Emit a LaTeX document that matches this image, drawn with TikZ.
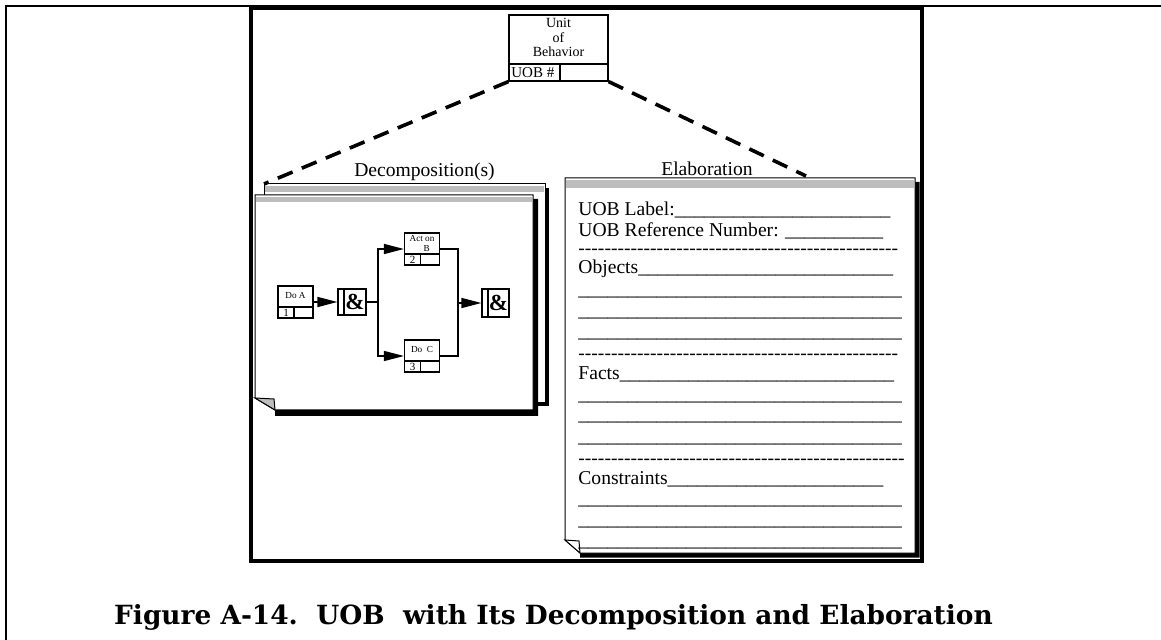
\documentclass[tikz,border=0pt]{standalone}
\usepackage{fontspec}
\setmainfont{Liberation Serif}
\newfontfamily\uobcapfont{DejaVu Serif}
\usetikzlibrary{arrows.meta}
\definecolor{uobStrip}{gray}{0.74}
\newcommand\uobunders[1]{\ifnum#1>0 \_\expandafter\uobunders\expandafter{\the\numexpr#1-1\relax}\fi}
\newcommand\uobdashes[1]{\ifnum#1>0 -{}\expandafter\uobdashes\expandafter{\the\numexpr#1-1\relax}\fi}
\tikzset{
  uob border/.style={draw=black, line width=1pt},
  uob frame/.style={draw=black, line width=2pt},
  uob link/.style={draw=black, line width=1.8pt, dash pattern=on 8pt off 5pt},
  uob page/.style={draw=black, fill=white, line width=0.5pt},
  uob shadow/.style={fill=black},
  uob strip/.style={fill=uobStrip},
  uob box/.style={draw=black, fill=white, line width=0.6pt, inner sep=0pt},
  uob cell/.style={draw=black, line width=0.6pt},
  uob wire/.style={draw=black, line width=0.8pt},
  uob flow/.style={uob wire, -{Triangle[length=10pt,width=5pt]}},
  uob form/.style={font=\fontsize{9.8}{11}\selectfont, anchor=base west, inner sep=0pt},
  uob title/.style={font=\fontsize{9.8}{11}\selectfont, anchor=base, inner sep=0pt},
  uob small/.style={font=\fontsize{7}{7.4}\selectfont, inner sep=0pt, align=center},
  uob tiny/.style={font=\fontsize{4.6}{5}\selectfont, inner sep=0pt, align=center},
  uob amp/.style={uob box, font=\fontsize{11.5}{11.5}\selectfont\bfseries},
}
\begin{document}
\begin{tikzpicture}[x=0.5pt, y=-0.5pt]
  \useasboundingbox (0,0) rectangle (1161,640);

  % outer border and figure frame
  \draw[uob border] (6,640) -- (6,6) -- (1161,6);
  \draw[uob frame] (250.5,8.5) rectangle (922,560.5);

  % unit of behavior
  \node[uob box, minimum width=49.5pt, minimum height=33pt] (uob) at (558.5,48) {};
  \draw[uob cell] (509,64) -- (608,64);
  \draw[uob cell] (560,64) -- (560,81);
  \node[uob small] (uobname) at (558.5,37.5) {Unit\\of\\Behavior};
  \node[uob small, font=\fontsize{7.5}{8}\selectfont, anchor=west] (uobnum) at (511,72.5) {UOB \#};

  % decomposition pages
  \coordinate (decomp corner) at (264,184);
  \fill[uob shadow] (545,188) rectangle (549,406);
  \fill[uob shadow] (520,402) rectangle (549,406);
  \draw[uob page] (264,184) rectangle (545,403);
  \fill[uob strip] (265,186.5) rectangle (544,192);

  \fill[uob shadow] (533,199) -- (538,199) -- (538,416) -- (275,416) -- (275,410) -- (533,410) -- cycle;
  \draw[uob page] (255,195) -- (533,195) -- (533,410) -- (275,410) -- (255,398) -- cycle;
  \fill[uob strip] (256,197) rectangle (532,202.5);
  \draw[uob page, fill=uobStrip] (255,398) -- (274,399) -- (275,410) -- cycle;
  \node[uob title] (decomp title) at (424.5,177) {Decomposition(s)};

  % elaboration page
  \coordinate (elab corner) at (806,176);
  \fill[uob shadow] (915,182) -- (919.5,182) -- (919.5,557.5) -- (580,557.5) -- (580,553) -- (915,553) -- cycle;
  \draw[uob page] (565,178) -- (915,178) -- (915,553) -- (580,553) -- (565,540) -- cycle;
  \fill[uob strip] (566,180) rectangle (914,188);
  \draw[uob page] (565,540) -- (579,541) -- (580,553) -- cycle;
  \node[uob title] (elab title) at (707,176) {Elaboration};

  % links to the unit of behavior
  \draw[uob link] (uob.south west) -- (decomp corner);
  \draw[uob link] (uob.south east) -- (elab corner);

  % decomposition: activities
  \foreach \nm/\cx/\cy/\txt/\num in {doa/295.5/302/{Do A}/1, actb/422/249/{Act on\\\ \ \ \ B}/2, doc/422/356/{Do\ \ C}/3} {
    \node[uob box, minimum width=17.5pt, minimum height=16pt] (\nm) at (\cx,\cy) {};
    \draw[uob cell] ({\cx-17.5},{\cy+5}) -- ({\cx+17.5},{\cy+5});
    \draw[uob cell] ({\cx-1.5},{\cy+5}) -- ({\cx-1.5},{\cy+16});
    \node[uob tiny] (\nm text) at (\cx,{\cy-6}) {\txt};
    \node[uob tiny, font=\fontsize{5.5}{6}\selectfont] (\nm num) at ({\cx-9.5},{\cy+10.5}) {\num};
  }

  % decomposition: junctions
  \node[uob amp, minimum width=14pt, minimum height=13pt] (and1) at (352,302) {\hspace*{3pt}\&};
  \draw[uob cell] (344,289) -- (344,315);
  \node[uob amp, minimum width=13.5pt, minimum height=14pt] (and2) at (495.5,303) {\hspace*{3pt}\&};
  \draw[uob cell] (488,289) -- (488,317);

  \coordinate (fork) at (378,302);
  \coordinate (join) at (458,303);
  \draw[uob flow] (doa) -- (and1);
  \draw[uob wire] (and1.east |- fork) -- (fork);
  \draw[uob flow] (fork) |- (actb);
  \draw[uob flow] (fork) |- (doc);
  \draw[uob wire] (actb.east) -| (join);
  \draw[uob wire] (doc.east) -| (join);
  \draw[uob flow] (join) -- (and2);

  % elaboration form
  \node[uob form] (uob label) at (578,216) {UOB Label:\uobunders{22}};
  \node[uob form] (uob ref) at (578,237) {UOB Reference Number: \uobunders{10}};
  \node[uob form] (rule one) at (578,255) {\uobdashes{49}};
  \node[uob form] (objects) at (578,274) {Objects\uobunders{26}};
  \node[uob form] (rule two) at (578,360) {\uobdashes{49}};
  \node[uob form] (facts) at (578,380) {Facts\uobunders{28}};
  \node[uob form] (rule three) at (578,465) {\uobdashes{50}};
  \node[uob form] (constraints) at (578,485) {Constraints\uobunders{22}};
  \foreach \y [count=\k] in {296,317,338,401,421,443,505,525,546} {
    \node[uob form] (blank\k) at (578,\y) {\uobunders{33}};
  }

  % caption
  \node[anchor=base, inner sep=0pt, font=\uobcapfont\bfseries\fontsize{13.2}{15}\selectfont] (caption) at (553.5,624) {Figure A-14.\ \ UOB\ \ with Its Decomposition and Elaboration};
\end{tikzpicture}
\end{document}
